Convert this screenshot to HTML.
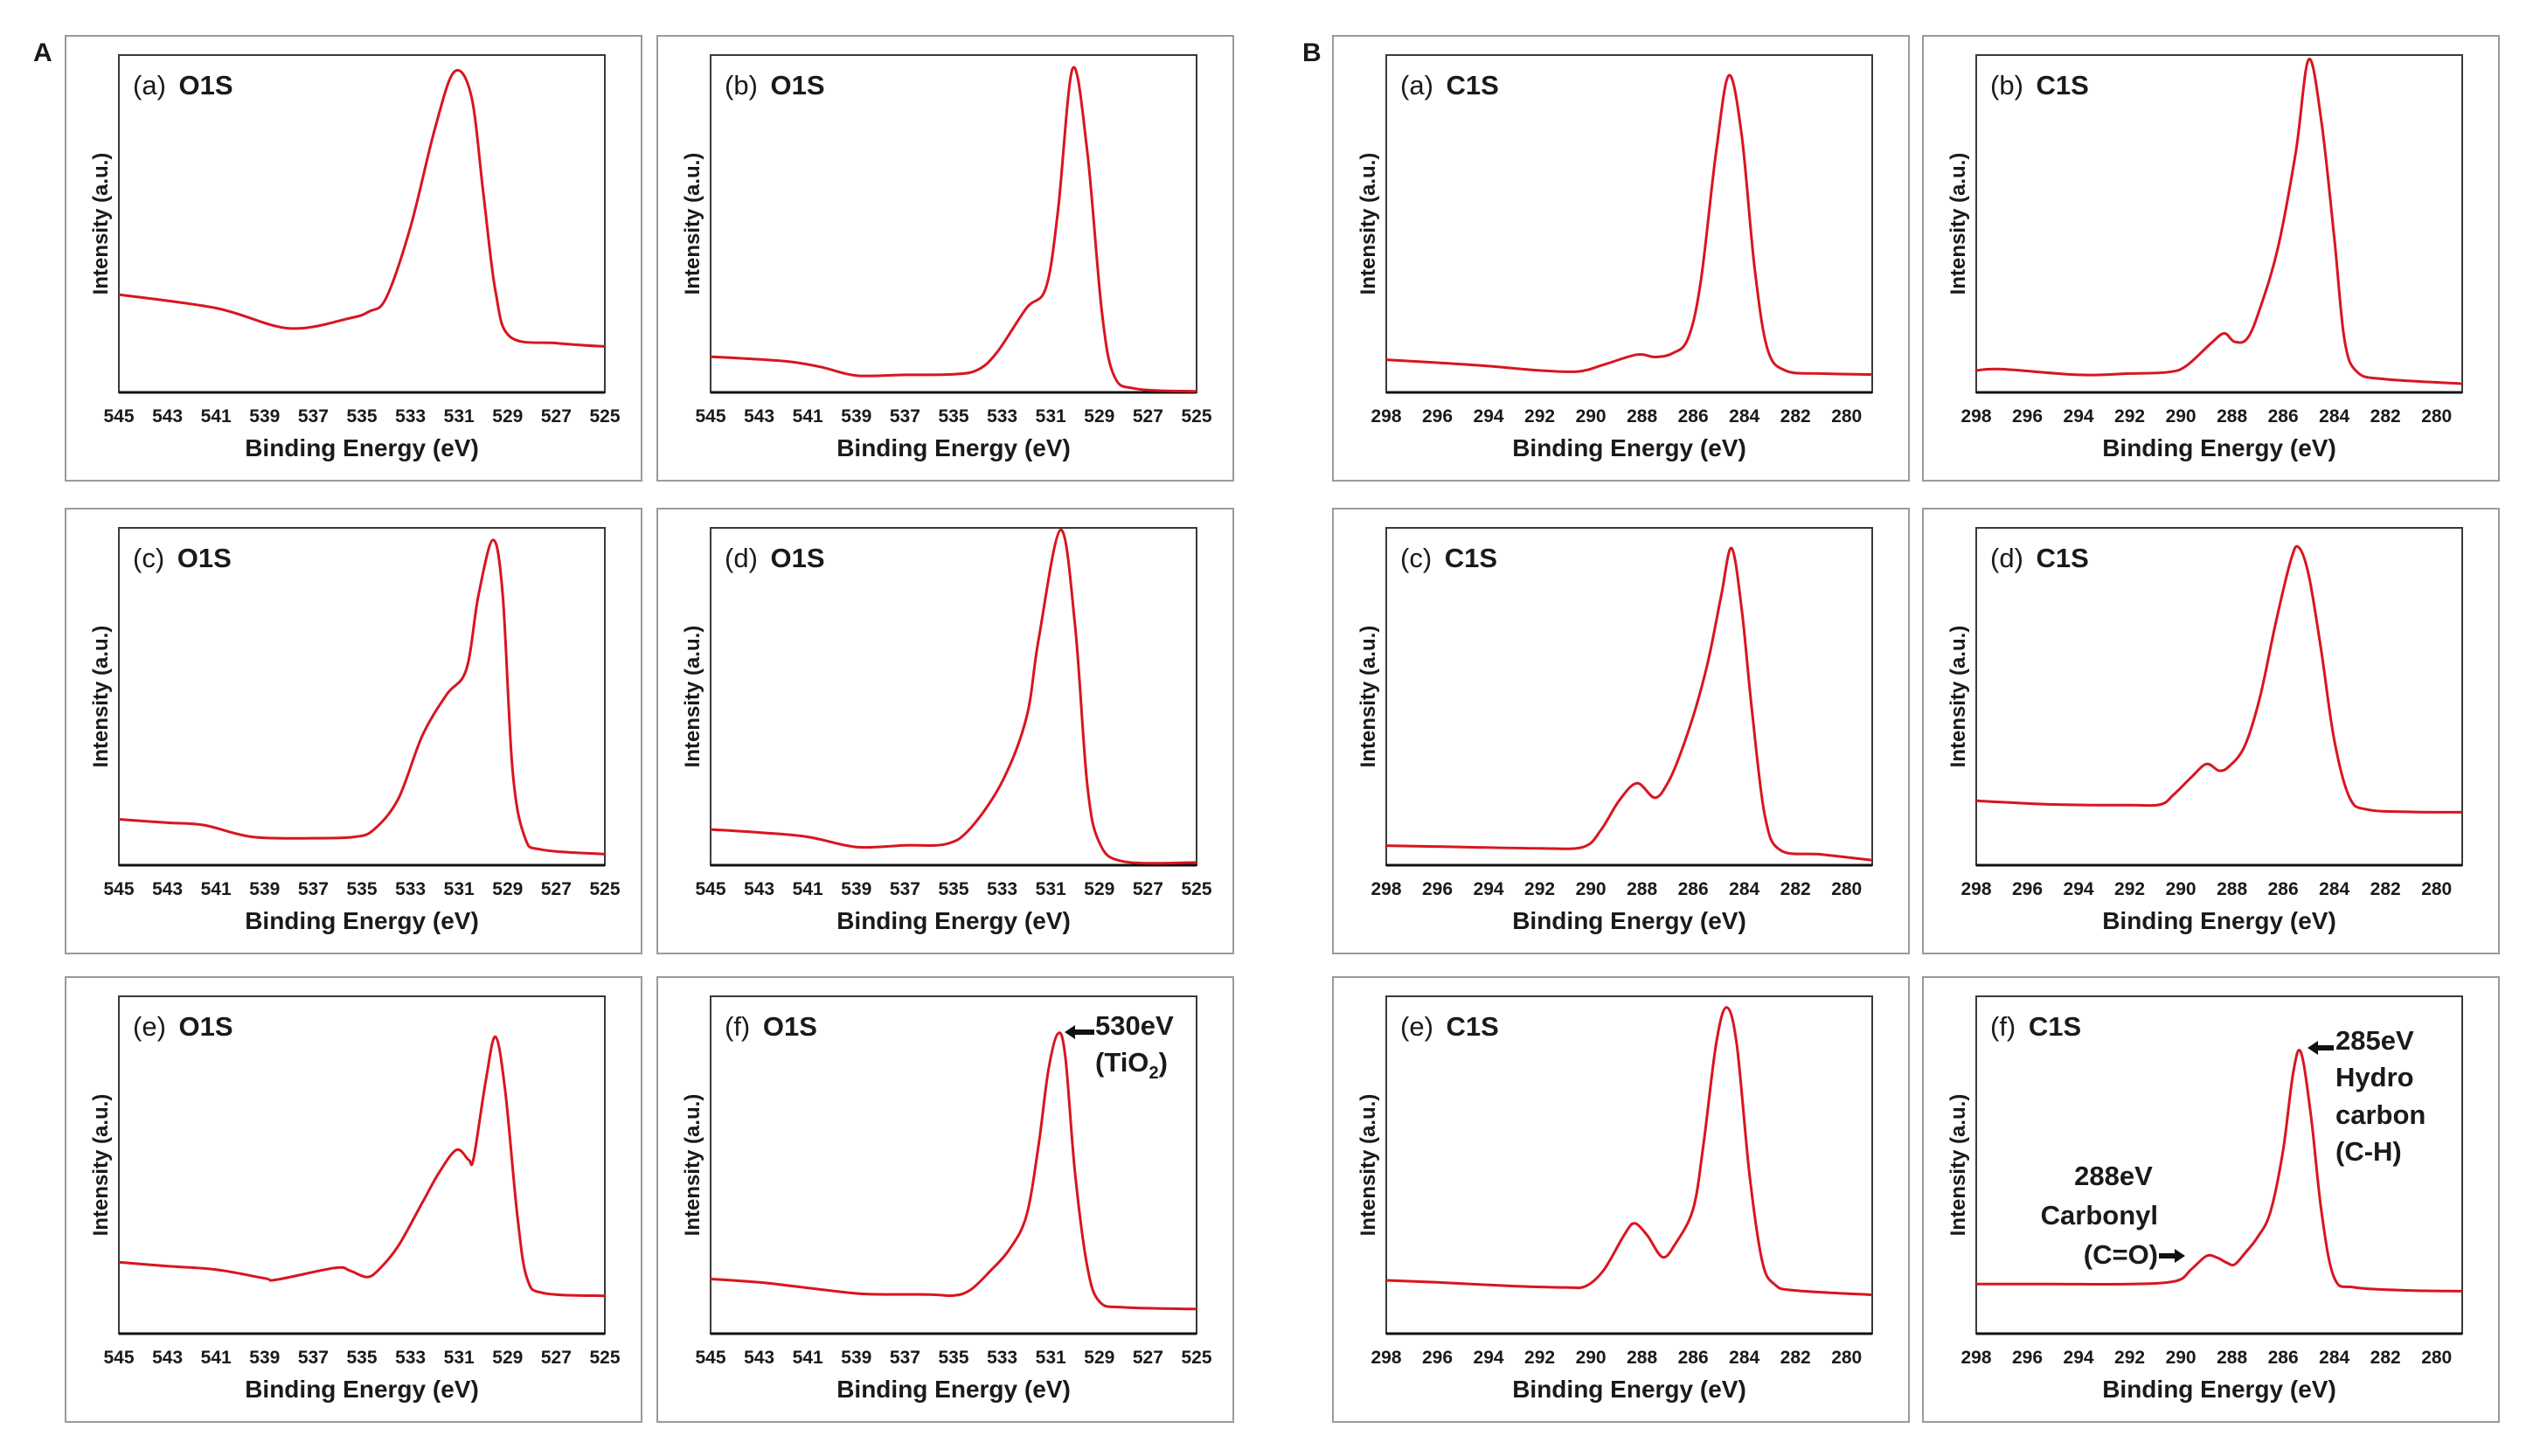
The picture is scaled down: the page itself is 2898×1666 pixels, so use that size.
<!DOCTYPE html>
<html><head><meta charset="utf-8"><style>
html,body{margin:0;padding:0;background:#fff;}
svg{display:block;}
text{font-family:"Liberation Sans",Arial,sans-serif;fill:#1a1a1a;}
.tick{font-family:"Liberation Sans Narrow","Liberation Sans",sans-serif;font-weight:bold;font-size:21px;}
.xt{font-weight:bold;font-size:28px;}
.yt{font-weight:bold;font-size:24px;}
.lab{font-size:31px;}
.ann{font-weight:bold;font-size:31px;}
</style></head><body>
<svg id="fig" width="2898" height="1666" viewBox="0 0 2898 1666" xmlns="http://www.w3.org/2000/svg">
<rect width="2898" height="1666" fill="#fff"/>
<text x="38" y="70" font-size="30" font-weight="bold">A</text>
<text x="1490" y="70" font-size="30" font-weight="bold">B</text>
<g id="panels"></g>
<g>
<path d="M1218 1181 L1230 1173 L1230 1178 L1252 1178 L1252 1184 L1230 1184 L1230 1189 Z" fill="#111"/>
<text class="ann" x="1253" y="1184">530eV</text>
<text class="ann" x="1253" y="1226">(TiO<tspan font-size="20" dy="8">2</tspan><tspan dy="-8">)</tspan></text>
</g>
<g>
<path d="M2640 1199 L2652 1191 L2652 1196 L2670 1196 L2670 1202 L2652 1202 L2652 1207 Z" fill="#111"/>
<text class="ann" x="2672" y="1201">285eV</text>
<text class="ann" x="2672" y="1243">Hydro</text>
<text class="ann" x="2672" y="1286">carbon</text>
<text class="ann" x="2672" y="1328">(C-H)</text>
</g>
<g>
<text class="ann" x="2418" y="1356" text-anchor="middle">288eV</text>
<text class="ann" x="2469" y="1401" text-anchor="end">Carbonyl</text>
<text class="ann" x="2469" y="1446" text-anchor="end">(C=O)</text>
<path d="M2500 1437 L2488 1429 L2488 1434 L2470 1434 L2470 1440 L2488 1440 L2488 1445 Z" fill="#111"/>
</g>
</svg>
<script>
// O1S panels: binding energy (eV) and normalized intensity (0=axis bottom,1=axis top)
const oA_E=[545,541,538,535.5,534.7,534,533,532,531.2,530.5,530,529.5,528.9,527,525];
const oA_I=[0.29,0.25,0.19,0.22,0.24,0.28,0.49,0.78,0.95,0.88,0.59,0.30,0.165,0.146,0.136];
const oB_E=[545,542,540.5,539,537,535,534,533.2,532,531.2,530.7,530.1,529.5,528.9,528.4,527.5,525];
const oB_I=[0.106,0.093,0.076,0.05,0.052,0.054,0.067,0.12,0.25,0.31,0.54,0.96,0.715,0.24,0.05,0.011,0.003];
const oC_E=[545,543,541.5,539.5,537,535.3,534.5,533.5,532.5,531.5,530.7,530.2,529.6,529.2,528.8,528.3,527.6,525];
const oC_I=[0.136,0.126,0.119,0.084,0.080,0.084,0.106,0.197,0.386,0.507,0.58,0.80,0.964,0.80,0.283,0.084,0.046,0.033];
const oD_E=[545,543,541,539,537,535.3,534.3,533,532,531.5,530.6,530.0,529.5,529.0,528,525];
const oD_I=[0.106,0.097,0.084,0.054,0.059,0.063,0.11,0.248,0.438,0.67,0.994,0.71,0.24,0.067,0.011,0.008];
const oE_E=[545,543,541,539,538.5,536.1,535.5,534.8,534.3,533.5,532.5,531.8,531.1,530.6,530.4,529.9,529.5,529.1,528.6,528.2,527.5,525];
const oE_I=[0.212,0.20,0.19,0.164,0.16,0.195,0.187,0.168,0.19,0.26,0.39,0.48,0.545,0.515,0.52,0.75,0.88,0.72,0.35,0.164,0.12,0.112];
const oF_E=[545,543,541.5,540,538.5,536,535,534.3,533.5,532.7,532,531.5,531.1,530.7,530.4,530,529.5,529,528,525];
const oF_I=[0.162,0.152,0.14,0.127,0.117,0.116,0.113,0.13,0.185,0.25,0.35,0.56,0.78,0.89,0.82,0.475,0.2,0.095,0.078,0.073];
// C1S panels
const cA_E=[298,296,294,292,290.5,289.5,288.2,287.5,286.8,286.2,285.7,285.1,284.6,284.1,283.6,283.1,282.4,281,279];
const cA_I=[0.097,0.088,0.078,0.065,0.062,0.082,0.112,0.105,0.116,0.16,0.33,0.715,0.94,0.76,0.37,0.13,0.065,0.056,0.053];
const cB_E=[298,297,294,292,290.5,289.8,288.8,288.3,287.9,287.4,286.9,286.2,285.5,285.0,284.5,284.0,283.6,283.1,282,279];
const cB_I=[0.065,0.069,0.052,0.056,0.06,0.078,0.147,0.175,0.15,0.16,0.25,0.43,0.715,0.987,0.80,0.457,0.155,0.06,0.039,0.026];
const cC_E=[298,295,292,290.3,289.6,288.9,288.2,287.5,287.0,286.5,285.9,285.4,284.9,284.5,284.1,283.7,283.2,282.6,281,279];
const cC_I=[0.058,0.054,0.05,0.054,0.105,0.191,0.243,0.2,0.243,0.33,0.466,0.61,0.80,0.94,0.756,0.457,0.148,0.045,0.032,0.015];
const cD_E=[298,295,292,290.8,290.3,289.6,289.0,288.5,288.1,287.5,286.9,286.3,285.7,285.4,285.0,284.5,284.0,283.4,282.7,281,279];
const cD_I=[0.191,0.18,0.178,0.18,0.208,0.26,0.30,0.28,0.294,0.354,0.50,0.715,0.904,0.943,0.86,0.63,0.37,0.2,0.165,0.158,0.157];
const cE_E=[298,296,293,291,290.2,289.5,288.7,288.3,287.8,287.2,286.7,286.0,285.6,285.1,284.7,284.3,283.8,283.3,282.8,282,279];
const cE_I=[0.158,0.152,0.141,0.137,0.141,0.188,0.292,0.327,0.292,0.227,0.266,0.37,0.56,0.86,0.967,0.86,0.474,0.214,0.145,0.128,0.115];
const cF_E=[298,295,292,290.2,289.6,289.0,288.6,288.2,287.9,287.5,287.0,286.5,286.0,285.6,285.3,284.9,284.5,284.0,283.2,281,279];
const cF_I=[0.147,0.147,0.147,0.156,0.19,0.23,0.226,0.21,0.205,0.238,0.286,0.36,0.545,0.777,0.833,0.638,0.36,0.165,0.137,0.128,0.126];
// tick labels
const oTicks=[545,543,541,539,537,535,533,531,529,527,525];
const cTicks=[298,296,294,292,290,288,286,284,282,280];
const oDomain=[545,525];
const cDomain=[298,279];
const panelLetters=['a','b','c','d','e','f'];
const oSeries=[[oA_E,oA_I],[oB_E,oB_I],[oC_E,oC_I],[oD_E,oD_I],[oE_E,oE_I],[oF_E,oF_I]];
const cSeries=[[cA_E,cA_I],[cB_E,cB_I],[cC_E,cC_I],[cD_E,cD_I],[cE_E,cE_I],[cF_E,cF_I]];

const NS='http://www.w3.org/2000/svg';
const root=document.getElementById('panels');
function mk(tag,attrs,parent){const e=document.createElementNS(NS,tag);for(const k in attrs)e.setAttribute(k,attrs[k]);parent.appendChild(e);return e;}
const boxX=[75,752,1525,2200], boxY=[41,582,1118], boxW=659, boxH=509;

function drawPanel(bx,by,domain,ticks,E,I,letter,elem,idx){
  const g=mk('g',{},root);
  
  
  const box=mk('rect',{x:bx,y:by,width:boxW,height:boxH,fill:'#fff',stroke:'#9a9a9a','stroke-width':2},g);
  
  
  const pl=bx+61,pr=bx+boxW-42,pt=by+22,pb=by+408;
  const sx=v=>pl+(v-domain[0])/(domain[1]-domain[0])*(pr-pl);
  const sy=v=>pb-v*(pb-pt);
  const frame=mk('rect',{x:pl,y:pt,width:pr-pl,height:pb-pt,fill:'none',stroke:'#3a3a3a','stroke-width':2},g);
  
  
  const xa=mk('line',{x1:pl,y1:pb,x2:pr,y2:pb,stroke:'#111','stroke-width':3},g);
  
  
  ticks.forEach(t=>{
    const tx=mk('text',{x:sx(t),y:pb+34,'text-anchor':'middle',class:'tick'},g);
    tx.textContent=t;
    
    
  });
  const xt=mk('text',{x:(pl+pr)/2,y:pb+73,'text-anchor':'middle',class:'xt'},g);
  xt.textContent='Binding Energy (eV)';
  
  
  const cy=(pt+pb)/2, cx=pl-21;
  const yt=mk('text',{x:cx,y:cy+8,'text-anchor':'middle',class:'yt',transform:'rotate(-90 '+cx+' '+(cy)+')'},g);
  yt.textContent='Intensity (a.u.)';
  
  
  const lb=mk('text',{x:pl+16,y:pt+45,class:'lab'},g);
  
  
  const t1=mk('tspan',{},lb);t1.textContent='('+letter+') ';
  const t2=mk('tspan',{'font-weight':'bold',dx:'6'},lb);t2.textContent=elem;
  const P=E.map((e,i)=>[sx(e),sy(I[i])]);
  let d='M'+P[0][0].toFixed(1)+' '+P[0][1].toFixed(1);
  for(let i=0;i<P.length-1;i++){
    const p0=P[Math.max(0,i-1)],p1=P[i],p2=P[i+1],p3=P[Math.min(P.length-1,i+2)];
    const c1=[p1[0]+(p2[0]-p0[0])/6,p1[1]+(p2[1]-p0[1])/6];
    const c2=[p2[0]-(p3[0]-p1[0])/6,p2[1]-(p3[1]-p1[1])/6];
    d+=' C'+c1.map(v=>v.toFixed(1)).join(' ')+' '+c2.map(v=>v.toFixed(1)).join(' ')+' '+p2.map(v=>v.toFixed(1)).join(' ');
  }
  const path=mk('path',{d:d,fill:'none',stroke:'#d9151f','stroke-width':3,'stroke-linejoin':'round'},g);
  
  
}
for(let k=0;k<6;k++){
  const r=Math.floor(k/2), c=k%2;
  drawPanel(boxX[c],boxY[r],oDomain,oTicks,oSeries[k][0],oSeries[k][1],panelLetters[k],'O1S',k);
  drawPanel(boxX[c+2],boxY[r],cDomain,cTicks,cSeries[k][0],cSeries[k][1],panelLetters[k],'C1S',k);
}
</script>
</body></html>
